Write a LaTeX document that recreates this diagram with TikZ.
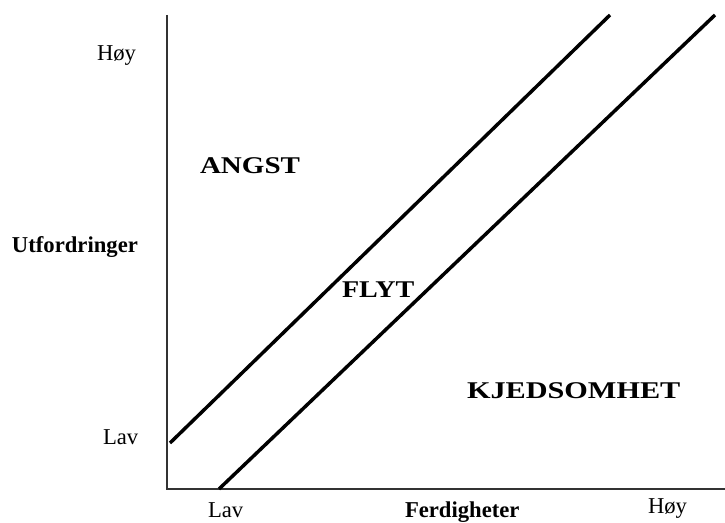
\documentclass[tikz,border=0pt]{standalone}
\usepackage{fontspec}
\setmainfont{Liberation Serif}
\usepackage{graphicx}
\begin{document}
\begin{tikzpicture}[x=0.75pt,y=-0.75pt,
  lbl/.style={anchor=base west,inner sep=0pt,outer sep=0pt,font=\fontsize{17}{20}\selectfont},
  blbl/.style={lbl,font=\fontsize{17}{20}\selectfont\bfseries},
  capslbl/.style={lbl,font=\fontsize{18}{21}\selectfont\bfseries},
  axisline/.style={line width=1.3pt,draw=black!80},
  bound/.style={line width=2.6pt,draw=black}]
\useasboundingbox (0,0) rectangle (725,523);
% axes
\coordinate (ytop) at (167,15);
\coordinate (orig) at (167,489);
\coordinate (xend) at (725,489);
\draw[axisline] (ytop) -- (orig) -- (xend);
% boundary lines
\coordinate (a1) at (170,443);
\coordinate (a2) at (610,15);
\coordinate (b1) at (219,489);
\coordinate (b2) at (715,15);
\draw[bound] (a1) -- (a2);
\draw[bound] (b1) -- (b2);
% labels
\node[lbl] (hoyy) at (97,61) {Høy};
\node[blbl] (utf) at (12,253) {Utfordringer};
\node[lbl] (lavy) at (103,445) {Lav};
\node[lbl] (lavx) at (208,518) {Lav};
\node[blbl] (ferd) at (405,518) {Ferdigheter};
\node[lbl] (hoyx) at (648,514) {Høy};
\node[capslbl] (angst) at (200,174) {\scalebox{1.21}[1]{ANGST}};
\node[capslbl] (flyt) at (342,298) {\scalebox{1.17}[1]{FLYT}};
\node[capslbl] (kjed) at (467,399) {\scalebox{1.26}[1]{KJEDSOMHET}};
\end{tikzpicture}
\end{document}
